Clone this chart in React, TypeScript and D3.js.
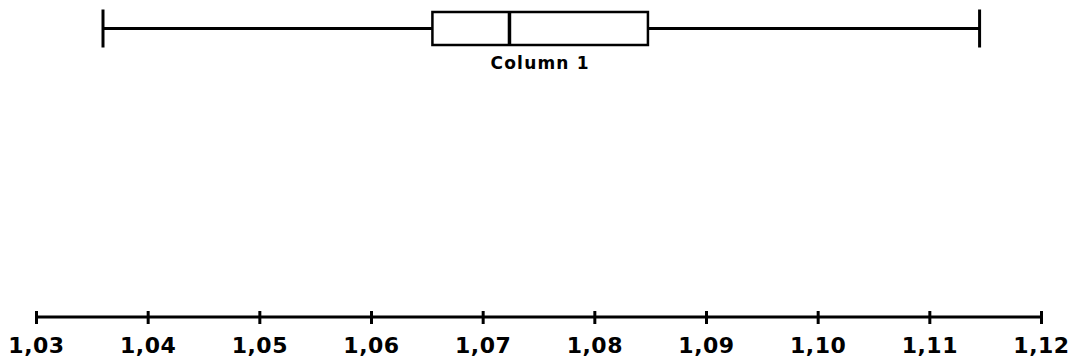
import React, { useRef, useEffect } from 'react';
import * as d3 from 'd3';

// box plot data
const categories = ['Column 1'];
const minValues = [1.0360];
const q1Values = [1.0655];
const medianValues = [1.0724];
const q3Values = [1.0848];
const maxValues = [1.1145];

// axis ticks
const tickValues = [1.03, 1.04, 1.05, 1.06, 1.07, 1.08, 1.09, 1.10, 1.11, 1.12];

const commaLocale = d3.formatLocale({ decimal: ',', thousands: '.', grouping: [3], currency: ['', ''] });
const fmt = commaLocale.format('.2f');

const App: React.FC = () => {
  const svgRef = useRef<SVGSVGElement | null>(null);

  useEffect(() => {
    document.body.style.margin = '0';
    if (!svgRef.current) return;

    const width = 1078;
    const height = 360;
    const axisY = 317;

    d3.select(svgRef.current).selectAll('*').remove(); // Clear previous chart

    const svg = d3.select(svgRef.current)
      .attr('width', width)
      .attr('height', height);

    const x = d3.scaleLinear()
      .domain([tickValues[0], tickValues[tickValues.length - 1]])
      .range([36, 1041]);

    // rows for each category (only one here)
    const y = d3.scaleBand<string>()
      .domain(categories)
      .range([12, 45]);

    const rows = categories.map((c, i) => ({
      name: c,
      min: minValues[i],
      q1: q1Values[i],
      median: medianValues[i],
      q3: q3Values[i],
      max: maxValues[i],
    }));

    const g = svg.selectAll('g.box')
      .data(rows)
      .enter().append('g')
      .attr('class', 'box');

    const mid = (d: { name: string }) => (y(d.name) as number) + y.bandwidth() / 2;

    // whisker lines
    g.append('line')
      .attr('x1', d => x(d.min))
      .attr('x2', d => x(d.q1))
      .attr('y1', mid)
      .attr('y2', mid)
      .attr('stroke', 'black')
      .attr('stroke-width', 3);
    g.append('line')
      .attr('x1', d => x(d.q3))
      .attr('x2', d => x(d.max))
      .attr('y1', mid)
      .attr('y2', mid)
      .attr('stroke', 'black')
      .attr('stroke-width', 3);

    // whisker caps
    ['min', 'max'].forEach(k => {
      g.append('line')
        .attr('x1', (d: any) => x(d[k]))
        .attr('x2', (d: any) => x(d[k]))
        .attr('y1', d => mid(d) - 19)
        .attr('y2', d => mid(d) + 19)
        .attr('stroke', 'black')
        .attr('stroke-width', 3);
    });

    // box
    g.append('rect')
      .attr('x', d => x(d.q1))
      .attr('y', d => y(d.name) as number)
      .attr('width', d => x(d.q3) - x(d.q1))
      .attr('height', y.bandwidth())
      .attr('fill', 'white')
      .attr('stroke', 'black')
      .attr('stroke-width', 2.5);

    // median
    g.append('line')
      .attr('x1', d => x(d.median))
      .attr('x2', d => x(d.median))
      .attr('y1', d => y(d.name) as number)
      .attr('y2', d => (y(d.name) as number) + y.bandwidth())
      .attr('stroke', 'black')
      .attr('stroke-width', 3.5);

    // category label
    g.append('text')
      .attr('x', d => (x(d.q1) + x(d.q3)) / 2)
      .attr('y', d => (y(d.name) as number) + y.bandwidth() + 24)
      .attr('text-anchor', 'middle')
      .style('font-family', 'DejaVu Sans, sans-serif')
      .style('font-weight', 'bold')
      .style('font-size', '17px')
      .style('letter-spacing', '1.2px')
      .text(d => d.name);

    // x axis
    const axis = svg.append('g')
      .attr('transform', `translate(0,${axisY})`)
      .call(d3.axisBottom(x).tickValues(tickValues).tickFormat(d => fmt(d as number)).tickSize(0).tickPadding(0));

    axis.select('.domain').remove();
    axis.append('line')
      .attr('x1', x.range()[0])
      .attr('x2', x.range()[1])
      .attr('stroke', 'black')
      .attr('stroke-width', 3);
    axis.selectAll('.tick line')
      .attr('y1', -6)
      .attr('y2', 7)
      .attr('stroke', 'black')
      .attr('stroke-width', 3);
    axis.selectAll('.tick text')
      .attr('y', 36)
      .attr('dy', 0)
      .attr('fill', 'black')
      .style('font-family', 'DejaVu Sans, sans-serif')
      .style('font-weight', 'bold')
      .style('font-size', '22px')
      .style('letter-spacing', '0.5px');
  }, []);

  return <svg ref={svgRef} style={{ display: 'block' }} />;
};

export default App;
